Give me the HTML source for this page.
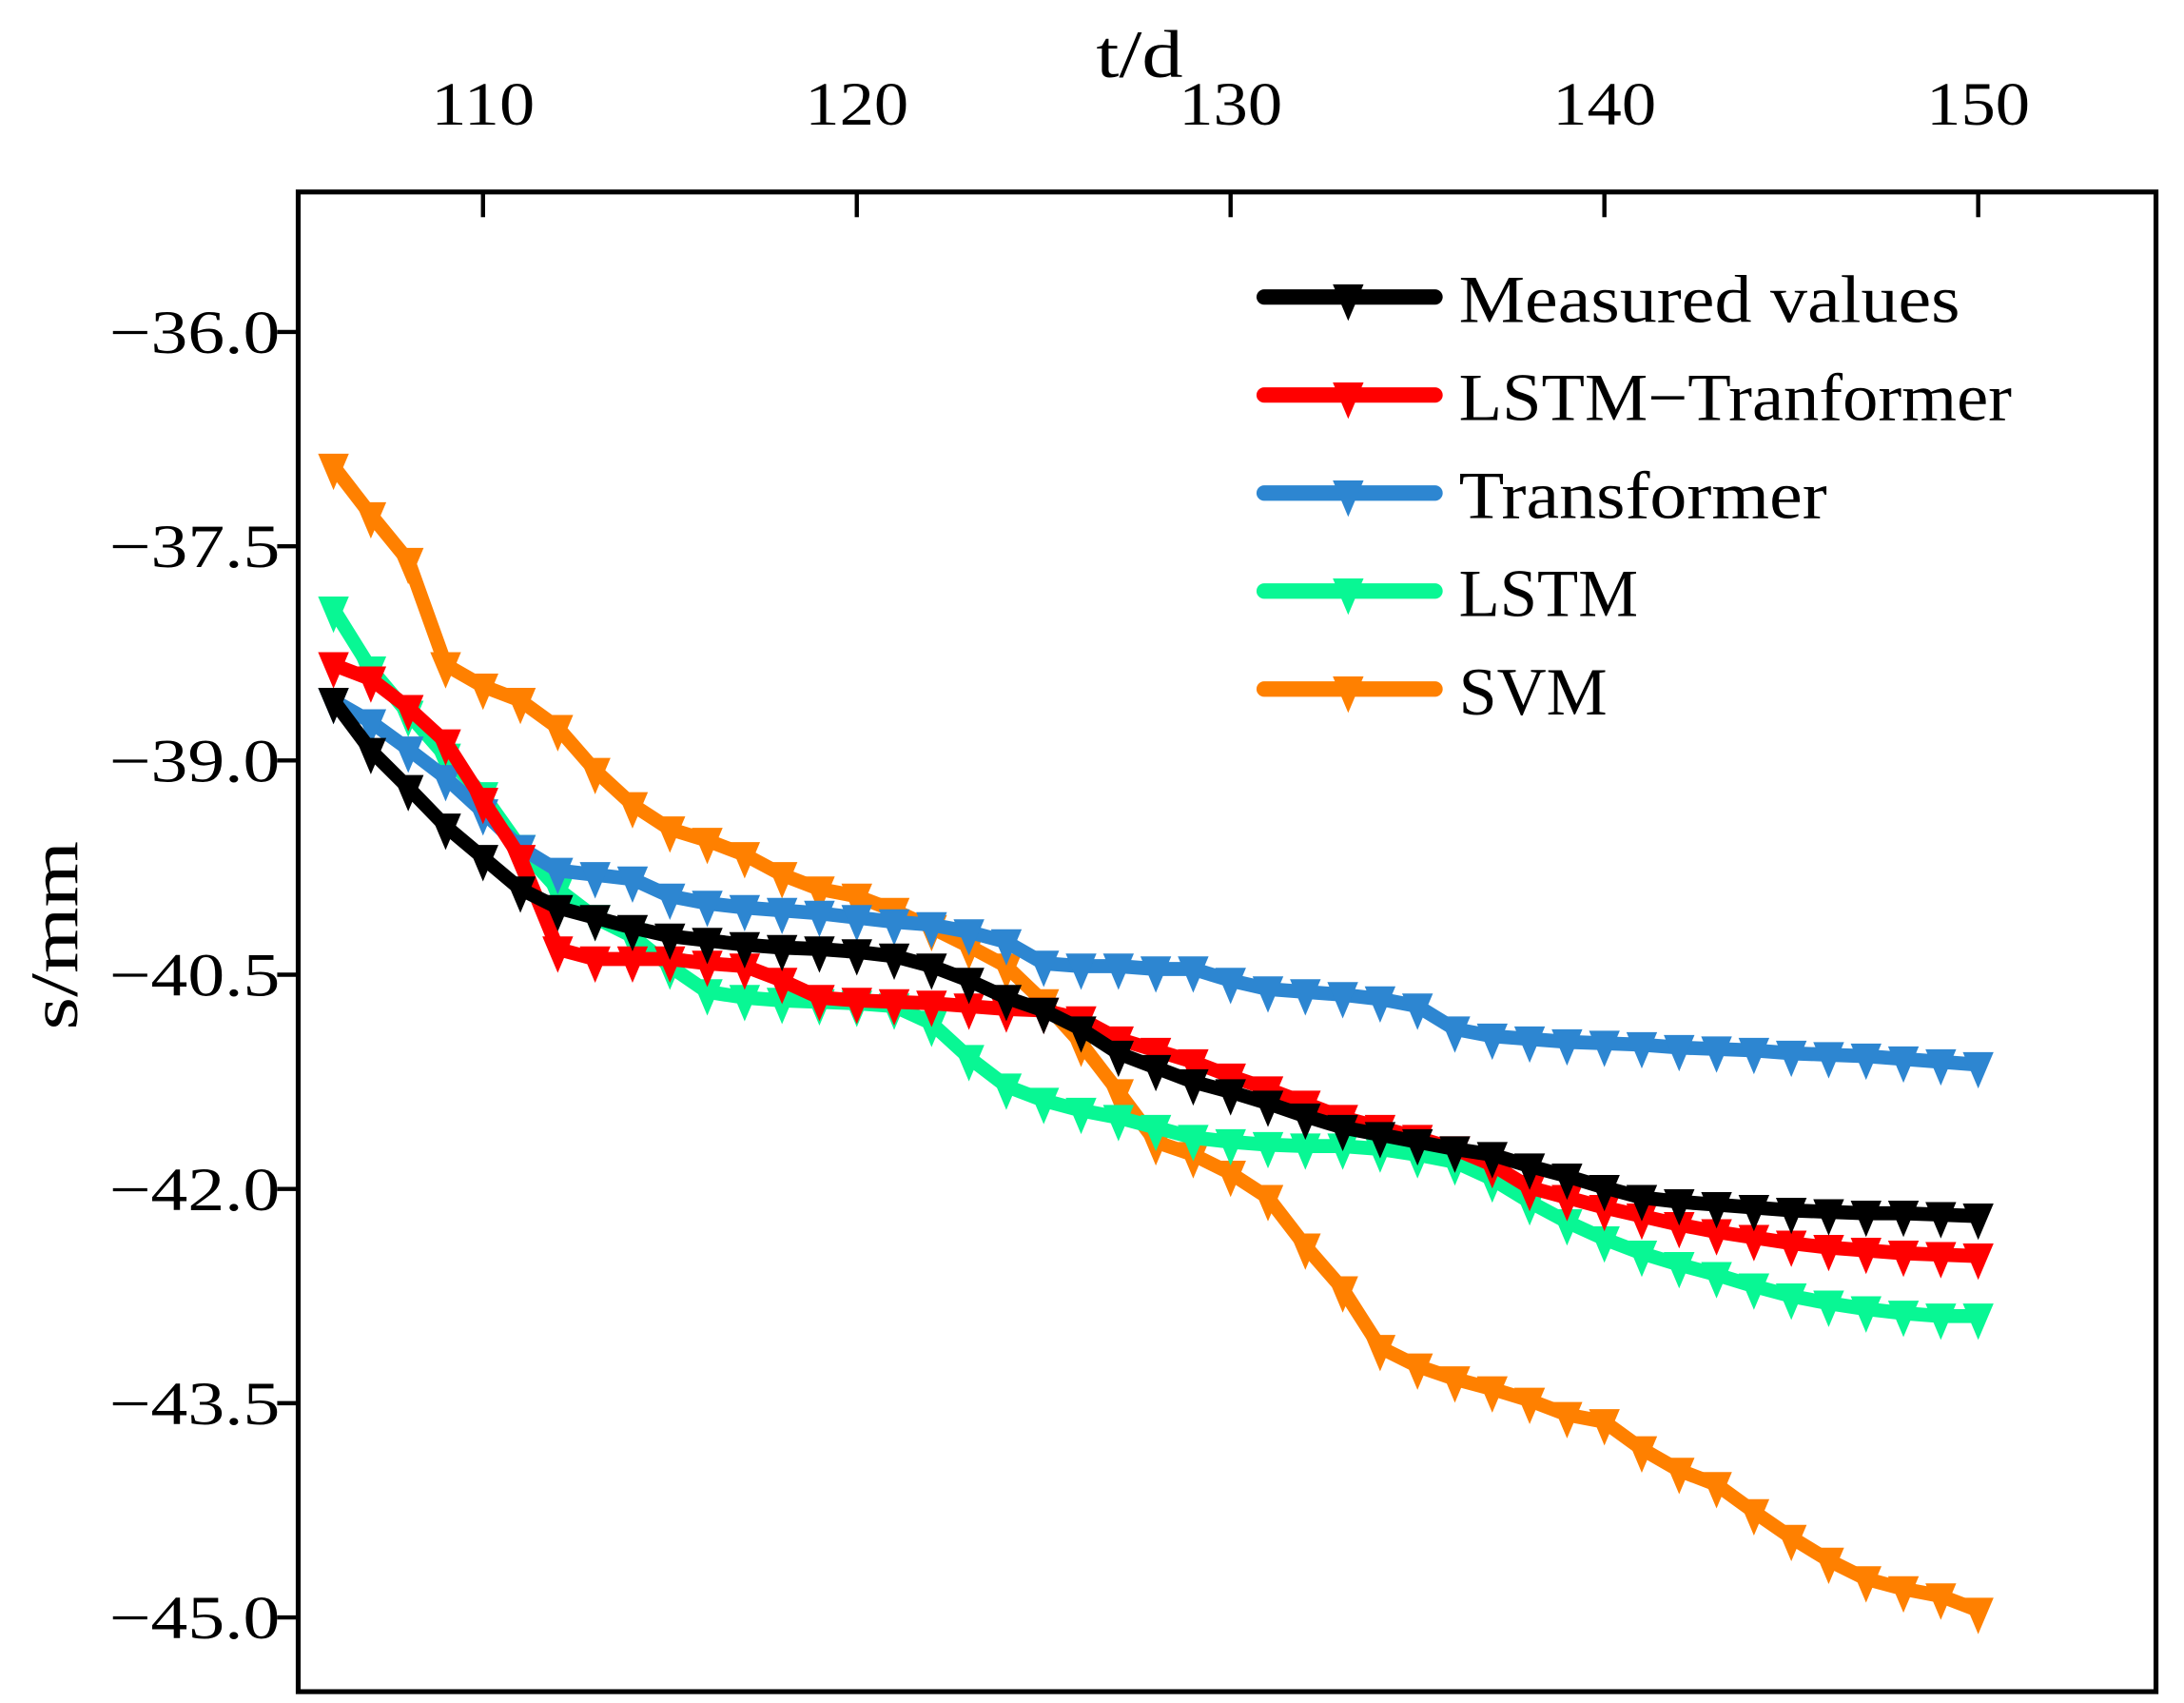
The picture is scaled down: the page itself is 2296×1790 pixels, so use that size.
<!DOCTYPE html>
<html><head><meta charset="utf-8"><style>
html,body{margin:0;padding:0;background:#fff;}
svg{display:block;}
text{font-family:"Liberation Serif",serif;fill:#000;}
</style></head><body>
<svg id="chart" width="2296" height="1790" viewBox="0 0 1560 1216" xmlns="http://www.w3.org/2000/svg">
<g id="axes"></g>
<g id="series"></g>
<g id="legend"></g>
</svg>
<script>
const days = [106,107,108,109,110,111,112,113,114,115,116,117,118,119,120,121,122,123,124,125,126,127,128,129,130,131,132,133,134,135,136,137,138,139,140,141,142,143,144,145,146,147,148,149,150];
const measured = [-38.58,-38.93,-39.19,-39.46,-39.68,-39.90,-40.03,-40.10,-40.17,-40.23,-40.26,-40.29,-40.31,-40.32,-40.34,-40.37,-40.44,-40.54,-40.66,-40.75,-40.88,-41.05,-41.15,-41.25,-41.32,-41.40,-41.49,-41.57,-41.62,-41.67,-41.72,-41.76,-41.84,-41.91,-41.99,-42.06,-42.09,-42.11,-42.13,-42.15,-42.16,-42.17,-42.17,-42.18,-42.19];
const lstmTransformer = [-38.33,-38.43,-38.63,-38.87,-39.28,-39.68,-40.32,-40.39,-40.39,-40.39,-40.42,-40.44,-40.54,-40.66,-40.68,-40.69,-40.70,-40.72,-40.74,-40.75,-40.81,-40.95,-41.03,-41.11,-41.21,-41.30,-41.40,-41.50,-41.57,-41.64,-41.72,-41.83,-41.99,-42.06,-42.13,-42.19,-42.25,-42.30,-42.34,-42.38,-42.41,-42.43,-42.45,-42.46,-42.47];
const transformer = [-38.58,-38.73,-38.92,-39.12,-39.36,-39.61,-39.77,-39.80,-39.83,-39.95,-40.00,-40.03,-40.05,-40.07,-40.10,-40.13,-40.15,-40.20,-40.27,-40.42,-40.44,-40.44,-40.46,-40.46,-40.54,-40.60,-40.62,-40.64,-40.67,-40.72,-40.88,-40.93,-40.95,-40.97,-40.98,-40.99,-41.01,-41.02,-41.03,-41.05,-41.06,-41.07,-41.09,-41.11,-41.13];
const lstm = [-37.94,-38.36,-38.67,-38.97,-39.24,-39.61,-39.90,-40.10,-40.23,-40.44,-40.62,-40.66,-40.68,-40.69,-40.70,-40.72,-40.84,-41.08,-41.28,-41.38,-41.45,-41.50,-41.57,-41.64,-41.67,-41.69,-41.70,-41.70,-41.72,-41.76,-41.81,-41.93,-42.09,-42.23,-42.35,-42.45,-42.53,-42.60,-42.68,-42.75,-42.80,-42.84,-42.87,-42.89,-42.89];
const svm = [-36.94,-37.28,-37.60,-38.33,-38.48,-38.58,-38.77,-39.07,-39.31,-39.48,-39.56,-39.66,-39.80,-39.90,-39.95,-40.05,-40.17,-40.30,-40.44,-40.69,-40.98,-41.32,-41.67,-41.76,-41.89,-42.06,-42.40,-42.70,-43.11,-43.24,-43.33,-43.40,-43.48,-43.58,-43.63,-43.82,-43.97,-44.07,-44.26,-44.44,-44.60,-44.73,-44.80,-44.85,-44.95];
const xTicks = [110,120,130,140,150];
const yTicks = [-36.0,-37.5,-39.0,-40.5,-42.0,-43.5,-45.0];
const seriesNames = ["Measured values","LSTM\u2212Tranformer","Transformer","LSTM","SVM"];

const NS="http://www.w3.org/2000/svg";
const L=213,R=1540,T=137,B=1208;
function xs(t){return 345+(t-110)*26.7;}
function ys(v){return 237+(-36-v)*102;}
function mk(tag,attrs,parent){const e=document.createElementNS(NS,tag);for(const k in attrs)e.setAttribute(k,attrs[k]);parent.appendChild(e);return e;}
const axes=document.getElementById('axes');
const box=mk('rect',{x:L,y:T,width:R-L,height:B-T,fill:'none',stroke:'#000','stroke-width':3.5},axes);


xTicks.forEach(t=>{
  const l=mk('line',{x1:xs(t),x2:xs(t),y1:T,y2:T+18,stroke:'#000','stroke-width':3},axes);
  
  
  const tx=mk('text',{x:xs(t),y:89,'text-anchor':'middle','font-size':44,textLength:74,lengthAdjust:'spacingAndGlyphs'},axes);
  tx.textContent=t;
  
  
});
yTicks.forEach(v=>{
  const l=mk('line',{x1:L-15,x2:L,y1:ys(v),y2:ys(v),stroke:'#000','stroke-width':3},axes);
  
  
  const tx=mk('text',{x:78,y:ys(v)+15,'font-size':44,textLength:122,lengthAdjust:'spacingAndGlyphs'},axes);
  tx.textContent='\u2212'+Math.abs(v).toFixed(1);
  
  
});
const xt=mk('text',{x:783,y:55,'font-size':48,textLength:62,lengthAdjust:'spacingAndGlyphs'},axes);
xt.textContent='t/d';


const yt=mk('text',{x:0,y:0,'text-anchor':'middle','font-size':48,textLength:135,lengthAdjust:'spacingAndGlyphs',transform:'translate(55,668) rotate(-90)'},axes);
yt.textContent='s/mm';



function tri(x,y,c,p){
  return mk('polygon',{points:`${x-11},${y-9} ${x+11},${y-9} ${x},${y+17}`,fill:c},p);
}
const seriesData=[measured,lstmTransformer,transformer,lstm,svm];
const colors=['#000000','#ff0000','#2d86d1','#08f794','#ff8000'];
const keys=['measured','lstm-transformer','transformer','lstm','svm'];
const sg=document.getElementById('series');
for(let s=seriesData.length-1;s>=0;s--){
  const g=mk('g',{},sg);
  
  
  const pts=seriesData[s].map((v,i)=>xs(days[i])+','+ys(v)).join(' ');
  const pl=mk('polyline',{points:pts,fill:'none',stroke:colors[s],'stroke-width':10,'stroke-linejoin':'round','stroke-linecap':'round'},g);
  
  
  seriesData[s].forEach((v,i)=>{
    const m=tri(xs(days[i]),ys(v),colors[s],g);
    
    
  });
}
const legendWidths=[358,395,263,128,106];
const lg=document.getElementById('legend');
seriesNames.forEach((n,i)=>{
  const y=212+i*70;
  const g=mk('g',{},lg);
  
  
  const l=mk('line',{x1:903,x2:1025,y1:y,y2:y,stroke:colors[i],'stroke-width':11,'stroke-linecap':'round'},g);
  
  
  const m=tri(963,y,colors[i],g);
  
  
  const tx=mk('text',{x:1042,y:y+18,'font-size':48,textLength:legendWidths[i],lengthAdjust:'spacingAndGlyphs'},g);
  tx.textContent=n;
  
  
});
</script>
</body></html>
